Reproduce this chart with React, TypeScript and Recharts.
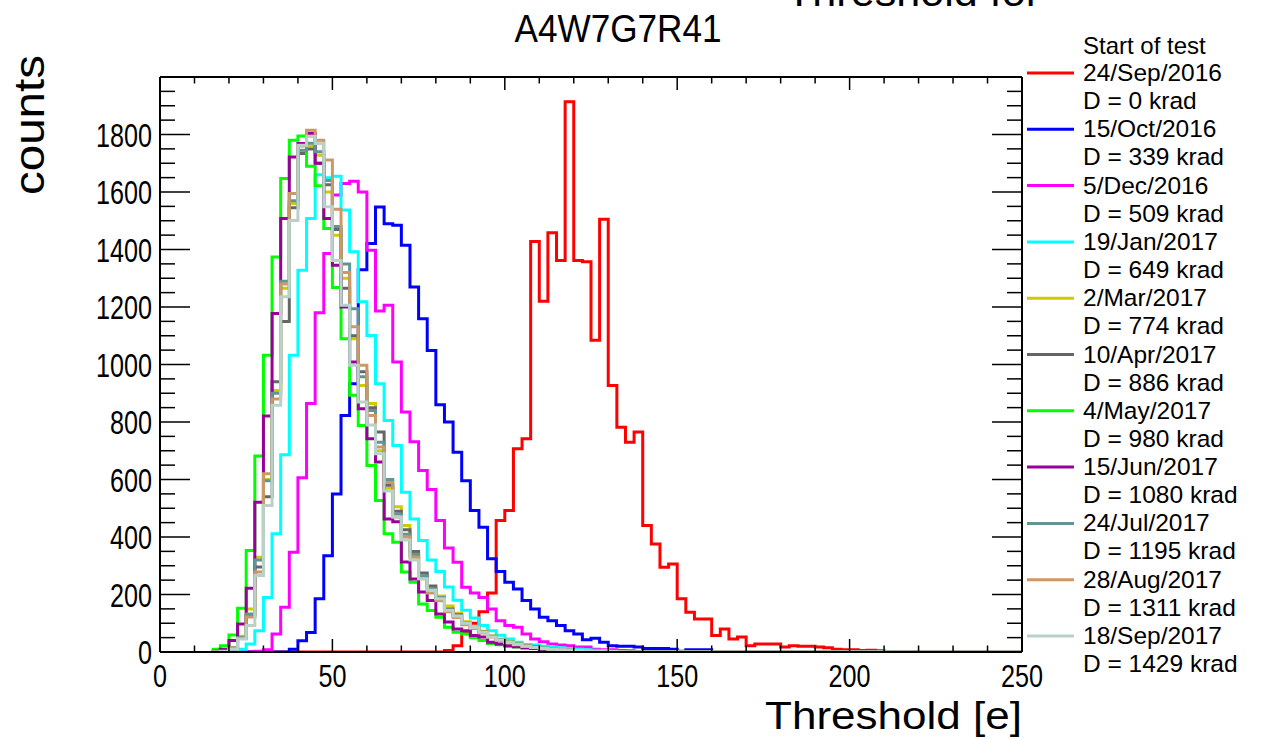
import React from 'react';
import { LineChart, Line, XAxis, YAxis } from 'recharts';

// Histogram bin lower edges (bin width 2.5 e)
const binStarts = [
  15, 17.5, 20, 22.5, 25, 27.5, 30, 32.5, 35, 37.5,
  40, 42.5, 45, 47.5, 50, 52.5, 55, 57.5, 60, 62.5,
  65, 67.5, 70, 72.5, 75, 77.5, 80, 82.5, 85, 87.5,
  90, 92.5, 95, 97.5, 100, 102.5, 105, 107.5, 110, 112.5,
  115, 117.5, 120, 122.5, 125, 127.5, 130, 132.5, 135, 137.5,
  140, 142.5, 145, 147.5, 150, 152.5, 155, 157.5, 160, 162.5,
  165, 167.5, 170, 172.5, 175, 177.5, 180, 182.5, 185, 187.5,
  190, 192.5, 195, 197.5, 200, 202.5, 205, 207.5, 210, 212.5,
];
const rangeEnd = 250;

const sep2016 = [
  0, 0, 0, 0, 0, 0, 0, 0, 0, 0,
  0, 0, 0, 0, 0, 0, 0, 0, 0, 0,
  0, 0, 0, 0, 0, 0, 0, 5, 22, 68,
  100, 140, 205, 457, 492, 707, 742, 1428, 1220, 1458,
  1362, 1914, 1362, 1357, 1084, 1505, 927, 782, 730, 765,
  440, 376, 295, 306, 185, 138, 115, 115, 57, 80,
  45, 52, 22, 28, 28, 28, 17, 22, 20, 20,
  17, 15, 10, 8, 8, 5, 6, 4, 0, 0,
];
const oct2016 = [
  0, 0, 0, 0, 0, 0, 0, 0, 0, 10,
  39, 68, 185, 335, 550, 823, 933, 1330, 1421, 1548,
  1490, 1484, 1415, 1270, 1159, 1049, 860, 800, 695, 596,
  492, 434, 324, 280, 243, 219, 179, 150, 121, 109,
  92, 74, 63, 43, 48, 34, 22, 20, 20, 17,
  12, 12, 12, 10, 3, 8, 8, 8, 0, 0,
  0, 0, 0, 0, 0, 0, 0, 0, 0, 0,
  0, 0, 0, 0, 0, 0, 0, 0, 0, 0,
];
const dec2016 = [
  0, 0, 0, 0, 0, 3, 8, 63, 156, 347,
  606, 864, 1180, 1386, 1590, 1630, 1637, 1600, 1397, 1186,
  1206, 1009, 835, 731, 631, 565, 457, 362, 312, 225,
  205, 190, 150, 109, 92, 86, 63, 45, 36, 28,
  24, 22, 17, 17, 10, 8, 8, 5, 4, 2,
  1, 0, 0, 0, 0, 0, 0, 0, 0, 0,
  0, 0, 0, 0, 0, 0, 0, 0, 0, 0,
  0, 0, 0, 0, 0, 0, 0, 0, 0, 0,
];
const jan2017 = [
  0, 0, 0, 10, 28, 74, 190, 411, 686, 1032,
  1328, 1508, 1660, 1650, 1655, 1537, 1392, 1218, 1101, 933,
  805, 718, 556, 463, 388, 320, 280, 226, 180, 145,
  118, 92, 74, 58, 45, 34, 26, 24, 20, 17,
  15, 12, 10, 8, 6, 5, 3, 2, 1, 0,
  0, 0, 0, 0, 0, 0, 0, 0, 0, 0,
  0, 0, 0, 0, 0, 0, 0, 0, 0, 0,
  0, 0, 0, 0, 0, 0, 0, 0, 0, 0,
];
const mar2017 = [
  0, 3, 15, 55, 150, 330, 600, 910, 1265, 1560,
  1740, 1760, 1728, 1600, 1450, 1300, 1090, 927, 864, 700,
  570, 505, 440, 335, 260, 225, 195, 160, 135, 105,
  88, 72, 56, 44, 35, 28, 22, 17, 13, 10,
  8, 6, 5, 4, 3, 2, 1, 0, 0, 0,
  0, 0, 0, 0, 0, 0, 0, 0, 0, 0,
  0, 0, 0, 0, 0, 0, 0, 0, 0, 0,
  0, 0, 0, 0, 0, 0, 0, 0, 0, 0,
];
const apr2017 = [
  0, 2, 13, 50, 125, 296, 540, 940, 1150, 1545,
  1734, 1750, 1700, 1625, 1470, 1265, 1100, 975, 850, 765,
  580, 490, 425, 350, 275, 230, 185, 150, 130, 100,
  85, 70, 55, 43, 34, 27, 21, 17, 13, 10,
  8, 6, 5, 4, 3, 2, 1, 0, 0, 0,
  0, 0, 0, 0, 0, 0, 0, 0, 0, 0,
  0, 0, 0, 0, 0, 0, 0, 0, 0, 0,
  0, 0, 0, 0, 0, 0, 0, 0, 0, 0,
];
const may2017 = [
  10, 22, 59, 152, 353, 682, 1032, 1374, 1647, 1780,
  1795, 1690, 1622, 1473, 1268, 1090, 893, 788, 649, 527,
  411, 382, 278, 243, 167, 144, 121, 86, 69, 63,
  50, 40, 30, 25, 20, 17, 14, 12, 10, 8,
  6, 5, 4, 3, 2, 2, 1, 0, 0, 0,
  0, 0, 0, 0, 0, 0, 0, 0, 0, 0,
  0, 0, 0, 0, 0, 0, 0, 0, 0, 0,
  0, 0, 0, 0, 0, 0, 0, 0, 0, 0,
];
const jun2017 = [
  3, 10, 40, 97, 222, 521, 821, 1177, 1508, 1722,
  1769, 1804, 1700, 1508, 1345, 1200, 1009, 846, 742, 661,
  463, 453, 313, 254, 209, 179, 132, 104, 80, 74,
  57, 52, 34, 28, 22, 18, 15, 12, 10, 8,
  6, 5, 4, 3, 2, 2, 1, 0, 0, 0,
  0, 0, 0, 0, 0, 0, 0, 0, 0, 0,
  0, 0, 0, 0, 0, 0, 0, 0, 0, 0,
  0, 0, 0, 0, 0, 0, 0, 0, 0, 0,
];
const jul2017 = [
  0, 3, 15, 50, 132, 320, 596, 900, 1290, 1570,
  1745, 1770, 1740, 1640, 1480, 1350, 1194, 957, 840, 730,
  600, 480, 410, 340, 265, 220, 190, 145, 125, 100,
  85, 68, 54, 42, 33, 26, 20, 16, 12, 10,
  8, 6, 5, 4, 3, 2, 1, 0, 0, 0,
  0, 0, 0, 0, 0, 0, 0, 0, 0, 0,
  0, 0, 0, 0, 0, 0, 0, 0, 0, 0,
  0, 0, 0, 0, 0, 0, 0, 0, 0, 0,
];
const aug2017 = [
  0, 3, 14, 48, 122, 278, 620, 880, 1280, 1595,
  1760, 1815, 1780, 1711, 1540, 1320, 1131, 997, 823, 713,
  590, 470, 400, 330, 255, 205, 178, 140, 120, 95,
  82, 66, 52, 41, 32, 25, 20, 16, 12, 9,
  7, 6, 4, 3, 2, 2, 1, 0, 0, 0,
  0, 0, 0, 0, 0, 0, 0, 0, 0, 0,
  0, 0, 0, 0, 0, 0, 0, 0, 0, 0,
  0, 0, 0, 0, 0, 0, 0, 0, 0, 0,
];
const sep2017 = [
  0, 2, 10, 45, 92, 266, 510, 858, 1236, 1501,
  1763, 1793, 1769, 1549, 1362, 1206, 997, 870, 790, 690,
  560, 470, 390, 320, 255, 215, 185, 145, 125, 100,
  85, 69, 52, 42, 33, 26, 20, 16, 12, 10,
  8, 6, 5, 4, 3, 2, 2, 1, 0, 0,
  0, 0, 0, 0, 0, 0, 0, 0, 0, 0,
  0, 0, 0, 0, 0, 0, 0, 0, 0, 0,
  0, 0, 0, 0, 0, 0, 0, 0, 0, 0,
];

const seriesDates = [
  '24/Sep/2016', '15/Oct/2016', '5/Dec/2016', '19/Jan/2017', '2/Mar/2017', '10/Apr/2017',
  '4/May/2017', '15/Jun/2017', '24/Jul/2017', '28/Aug/2017', '18/Sep/2017',
];
const seriesDoses = ['0', '339', '509', '649', '774', '886', '980', '1080', '1195', '1311', '1429'];
const seriesColors = [
  '#ff0000', '#0000ff', '#ff00ff', '#00ffff', '#cccc00', '#666666',
  '#00ff00', '#990099', '#5f9595', '#cc9966', '#b8d2ca',
];
const seriesValues = [
  sep2016, oct2016, dec2016, jan2017, mar2017, apr2017,
  may2017, jun2017, jul2017, aug2017, sep2017,
];

const xTicks = [0, 10, 20, 30, 40, 50, 60, 70, 80, 90, 100, 110, 120, 130, 140, 150, 160, 170, 180, 190, 200, 210, 220, 230, 240, 250];
const yTicks = [
  0, 50, 100, 150, 200, 250, 300, 350, 400, 450, 500, 550, 600, 650, 700, 750, 800, 850, 900, 950,
  1000, 1050, 1100, 1150, 1200, 1250, 1300, 1350, 1400, 1450, 1500, 1550, 1600, 1650, 1700, 1750,
  1800, 1850, 1900, 1950, 2000,
];

const titleText = 'A4W7G7R41';
const topClippedText = 'Threshold for';
const xTitle = 'Threshold [e]';
const yTitle = 'counts';
const legendHeader = 'Start of test';

const data = binStarts.map((x, i) => {
  const row: Record<string, number> = { x };
  seriesValues.forEach((vals, k) => {
    row['s' + k] = vals[i];
  });
  return row;
});
const closing: Record<string, number> = { x: rangeEnd };
seriesValues.forEach((vals, k) => {
  closing['s' + k] = vals[vals.length - 1];
});
data.push(closing);

const FONT = '"Liberation Sans", Arial, Helvetica, sans-serif';
const DIGIT_W = 14;

const BottomTick = (props: any) => {
  const { x, y, payload } = props;
  const v = payload.value;
  const major = v % 50 === 0;
  const s = String(v);
  return (
    <g>
      <line x1={x} x2={x} y1={y} y2={y - (major ? 13 : 6.5)} stroke="#000" strokeWidth={1.5} />
      {major && (
        <text x={x} y={y + 35} textAnchor="middle" fontSize={32} fontFamily={FONT} fill="#000"
          textLength={s.length * DIGIT_W} lengthAdjust="spacingAndGlyphs">{s}</text>
      )}
    </g>
  );
};
const TopTick = (props: any) => {
  const { x, y, payload } = props;
  const major = payload.value % 50 === 0;
  return <line x1={x} x2={x} y1={y} y2={y + (major ? 13 : 6.5)} stroke="#000" strokeWidth={1.5} />;
};
const LeftTick = (props: any) => {
  const { x, y, payload } = props;
  const v = payload.value;
  const major = v % 200 === 0;
  const s = String(v);
  return (
    <g>
      <line x1={x} x2={x + (major ? 30 : 15)} y1={y} y2={y} stroke="#000" strokeWidth={1.5} />
      {major && v < 2000 && (
        <text x={x - 8} y={y + 12} textAnchor="end" fontSize={33} fontFamily={FONT} fill="#000"
          textLength={s.length * DIGIT_W} lengthAdjust="spacingAndGlyphs">{s}</text>
      )}
    </g>
  );
};
const RightTick = (props: any) => {
  const { x, y, payload } = props;
  const major = payload.value % 200 === 0;
  return <line x1={x} x2={x - (major ? 30 : 15)} y1={y} y2={y} stroke="#000" strokeWidth={1.5} />;
};

export default function App() {
  const legendX = 1083;
  return (
    <div style={{ position: 'absolute', left: 0, top: 0, width: 1264, height: 739, background: '#fff', overflow: 'hidden' }}>
      <LineChart width={1264} height={739} data={data} margin={{ top: 67, right: 232, bottom: 77, left: 150 }}>
        <XAxis xAxisId="b" dataKey="x" type="number" domain={[0, 250]} ticks={xTicks} interval={0}
          orientation="bottom" height={10} tickSize={0} tickMargin={0} tickLine={false}
          axisLine={{ stroke: '#000', strokeWidth: 2 }} tick={<BottomTick />} allowDataOverflow />
        <XAxis xAxisId="t" dataKey="x" type="number" domain={[0, 250]} ticks={xTicks} interval={0}
          orientation="top" height={10} tickSize={0} tickMargin={0} tickLine={false}
          axisLine={{ stroke: '#000', strokeWidth: 2 }} tick={<TopTick />} allowDataOverflow />
        <YAxis yAxisId="l" type="number" domain={[0, 2000]} ticks={yTicks} interval={0}
          orientation="left" width={10} tickSize={0} tickMargin={0} tickLine={false}
          axisLine={{ stroke: '#000', strokeWidth: 2 }} tick={<LeftTick />} allowDataOverflow />
        <YAxis yAxisId="r" type="number" domain={[0, 2000]} ticks={yTicks} interval={0}
          orientation="right" width={10} tickSize={0} tickMargin={0} tickLine={false}
          axisLine={{ stroke: '#000', strokeWidth: 2 }} tick={<RightTick />} allowDataOverflow />
        {seriesValues.map((_, k) => (
          <Line key={k} xAxisId="b" yAxisId="l" type="stepAfter" dataKey={'s' + k}
            stroke={seriesColors[k]} strokeWidth={3} dot={false} activeDot={false}
            isAnimationActive={false} strokeLinejoin="miter" />
        ))}
      </LineChart>
      <svg width={1264} height={739} style={{ position: 'absolute', left: 0, top: 0, pointerEvents: 'none' }}>
        <text x={786} y={6} fontSize={40} fontFamily={FONT} fill="#000" textLength={254} lengthAdjust="spacingAndGlyphs">{topClippedText}</text>
        <text x={618} y={42} textAnchor="middle" fontSize={38} fontFamily={FONT} fill="#000" textLength={207} lengthAdjust="spacingAndGlyphs">{titleText}</text>
        <text x={1022} y={729} textAnchor="end" fontSize={39} fontFamily={FONT} fill="#000" textLength={257} lengthAdjust="spacingAndGlyphs">{xTitle}</text>
        <text x={44} y={55} transform="rotate(-90 44 55)" textAnchor="end" fontSize={42} fontFamily={FONT} fill="#000" textLength={140} lengthAdjust="spacingAndGlyphs">{yTitle}</text>
        <text x={legendX} y={54} fontSize={24} fontFamily={FONT} fill="#000">{legendHeader}</text>
        {seriesDates.map((d, k) => {
          const cy = 72 + 56.3 * k;
          return (
            <g key={k}>
              <line x1={1027} x2={1074} y1={cy + 1} y2={cy + 1} stroke={seriesColors[k]} strokeWidth={3} />
              <text x={legendX} y={cy + 9} fontSize={24.5} fontFamily={FONT} fill="#000">{d}</text>
              <text x={legendX} y={cy + 37} fontSize={24.5} fontFamily={FONT} fill="#000">{'D = ' + seriesDoses[k] + ' krad'}</text>
            </g>
          );
        })}
      </svg>
    </div>
  );
}
